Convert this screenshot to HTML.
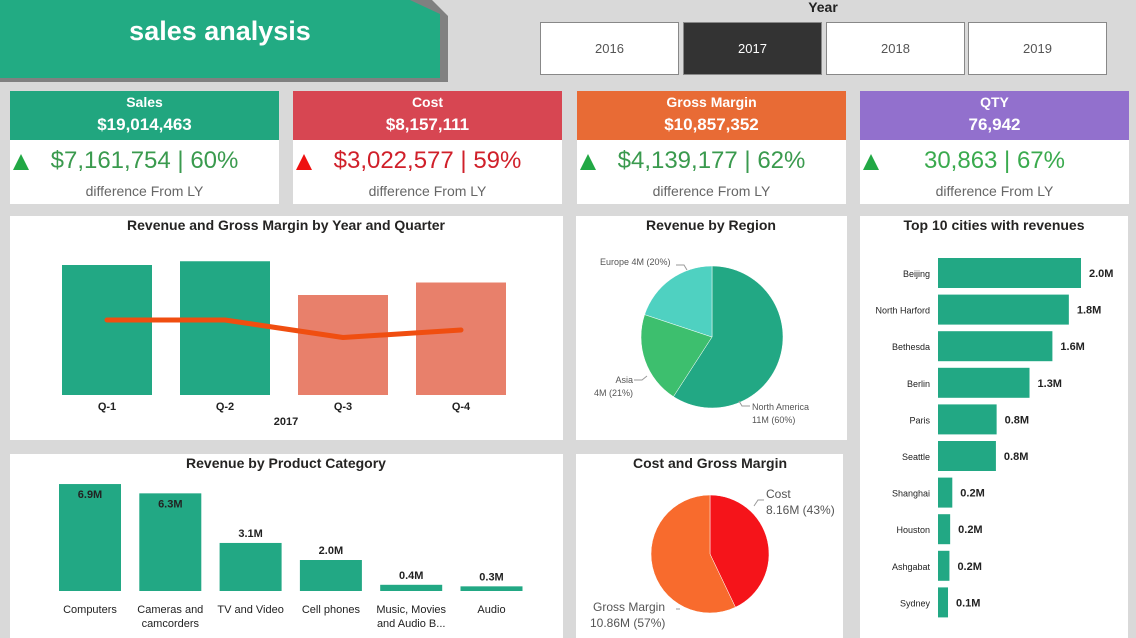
<!DOCTYPE html>
<html><head><meta charset="utf-8">
<style>
body{margin:0;width:1136px;height:638px;background:#d9d9d9;font-family:"Liberation Sans",sans-serif;position:relative;overflow:hidden}
.abs{position:absolute}
.card{position:absolute;top:91px;width:269px;height:113px;background:#fff}
.card .hd{height:49px;color:#fff;text-align:center}
.card .t{font-size:14px;font-weight:bold;padding-top:2px;height:20px;line-height:18px}
.card .v{font-size:17px;font-weight:bold;line-height:24px}
.card .d{position:absolute;top:55px;left:0;width:100%;text-align:center;font-size:24px;line-height:30px}
.card .tri{position:absolute;left:3px;top:63px;width:0;height:0;border-left:8px solid transparent;border-right:8px solid transparent;border-bottom:16px solid #22a845}
.card .f{position:absolute;top:92px;width:100%;text-align:center;font-size:14px;color:#666}
.yr{position:absolute;top:22px;width:139px;height:53px;border:1px solid #888;background:#fff;box-sizing:border-box;text-align:center;line-height:52px;font-size:13px;color:#555}
.panel{position:absolute;background:#fff}
</style></head><body>
<svg class="abs" style="left:0;top:0" width="460" height="90">
<polygon points="0,0 432,0 448,16 448,82 0,82" fill="#808080"/>
<polygon points="0,0 410,0 440,14 440,78 0,78" fill="#22ab83"/>
</svg>
<div class="abs" style="left:0;top:16px;width:440px;text-align:center;color:#fff;font-size:27px;font-weight:bold">sales analysis</div>

<div class="abs" style="left:793px;top:-1px;width:60px;text-align:center;font-size:14px;font-weight:bold;color:#222">Year</div>
<div class="yr" style="left:540px">2016</div>
<div class="yr" style="left:683px;background:#333;color:#fff">2017</div>
<div class="yr" style="left:826px">2018</div>
<div class="yr" style="left:968px">2019</div>

<div class="card" style="left:10px"><div class="hd" style="background:#21a67f"><div class="t">Sales</div><div class="v">$19,014,463</div></div><div class="tri"></div><div class="d" style="color:#3a9a4e">$7,161,754 | 60%</div><div class="f">difference From LY</div></div>
<div class="card" style="left:293px"><div class="hd" style="background:#d74652"><div class="t">Cost</div><div class="v">$8,157,111</div></div><div class="tri" style="border-bottom-color:#ee1111"></div><div class="d" style="color:#d0202a">$3,022,577 | 59%</div><div class="f">difference From LY</div></div>
<div class="card" style="left:577px"><div class="hd" style="background:#e86b35"><div class="t">Gross Margin</div><div class="v">$10,857,352</div></div><div class="tri"></div><div class="d" style="color:#3a9a4e">$4,139,177 | 62%</div><div class="f">difference From LY</div></div>
<div class="card" style="left:860px"><div class="hd" style="background:#9270cd"><div class="t">QTY</div><div class="v">76,942</div></div><div class="tri"></div><div class="d" style="color:#3aaa4e">30,863 | 67%</div><div class="f">difference From LY</div></div>

<div class="panel" style="left:10px;top:216px;width:553px;height:224px"></div>
<div class="panel" style="left:576px;top:216px;width:271px;height:224px"></div>
<div class="panel" style="left:860px;top:216px;width:268px;height:422px"></div>
<div class="panel" style="left:10px;top:454px;width:553px;height:184px"></div>
<div class="panel" style="left:576px;top:454px;width:267px;height:184px"></div>

<svg id="ch" class="abs" style="left:0;top:0" width="1136" height="638" font-family="Liberation Sans, sans-serif"></svg>
<script>
const quarters=["Q-1","Q-2","Q-3","Q-4"];
const quarterRevenue=[5.2,5.35,4.0,4.5];
const quarterMargin=[3.0,3.0,2.3,2.6];
const regions=["North America","Asia","Europe"];
const regionValues=[11,3.9,3.7];
const regionLabels=["11M (60%)","4M (21%)","Europe 4M (20%)"];
const cmNames=["Cost","Gross Margin"];
const cmValues=[8.16,10.86];
const cities=["Beijing","North Harford","Bethesda","Berlin","Paris","Seattle","Shanghai","Houston","Ashgabat","Sydney"];
const cityValues=[2.0,1.83,1.6,1.28,0.82,0.81,0.2,0.17,0.16,0.14];
const cityLabels=["2.0M","1.8M","1.6M","1.3M","0.8M","0.8M","0.2M","0.2M","0.2M","0.1M"];
const categories=[["Computers"],["Cameras and","camcorders"],["TV and Video"],["Cell phones"],["Music, Movies","and Audio B..."],["Audio"]];
const categoryValues=[6.9,6.3,3.1,2.0,0.4,0.3];
const categoryLabels=["6.9M","6.3M","3.1M","2.0M","0.4M","0.3M"];

const S=document.getElementById('ch');const NS='http://www.w3.org/2000/svg';
function mk(t,a,txt){const e=document.createElementNS(NS,t);for(const k in a)e.setAttribute(k,a[k]);if(txt!==undefined)e.textContent=txt;S.appendChild(e);return e;}
function title(x,y,s,n){const e=mk('text',{x:x,y:y,'text-anchor':'middle','font-size':14,'font-weight':'bold',fill:'#252423'},s);

}
title(286,230,'Revenue and Gross Margin by Year and Quarter','quarter-chart-title');
title(711,230,'Revenue by Region','region-chart-title');
title(994,230,'Top 10 cities with revenues','cities-chart-title');
title(286,468,'Revenue by Product Category','category-chart-title');
title(710,468,'Cost and Gross Margin','cost-margin-chart-title');

// quarter chart
const qBase=395,qScale=25,qx=i=>107+i*118;const qy=v=>qBase-v*qScale;
quarters.forEach((q,i)=>{const r=mk('rect',{x:qx(i)-45,y:qy(quarterRevenue[i]),width:90,height:quarterRevenue[i]*qScale,fill:i<2?'#22a884':'#e8806b'});


const t=mk('text',{x:qx(i),y:410,'text-anchor':'middle','font-size':11,'font-weight':'bold',fill:'#222'},q);

});
const yl=mk('text',{x:286,y:425,'text-anchor':'middle','font-size':11,'font-weight':'bold',fill:'#222'},'2017');


const ln=mk('polyline',{points:quarterMargin.map((v,i)=>qx(i)+','+qy(v)).join(' '),fill:'none',stroke:'#f04e10','stroke-width':5,'stroke-linejoin':'round','stroke-linecap':'round'});



function pie(cx,cy,r,vals,cols,prefix){const tot=vals.reduce((a,b)=>a+b,0);let a0=-Math.PI/2;const mids=[];
vals.forEach((v,i)=>{const a1=a0+v/tot*2*Math.PI;const p=mk('path',{d:`M${cx},${cy} L${cx+r*Math.cos(a0)},${cy+r*Math.sin(a0)} A${r},${r} 0 ${a1-a0>Math.PI?1:0} 1 ${cx+r*Math.cos(a1)},${cy+r*Math.sin(a1)} Z`,fill:cols[i],stroke:'#fff','stroke-width':0.5});


mids.push((a0+a1)/2);a0=a1;});return mids;}
pie(712,337,71,regionValues,['#22a884','#3dbf6e','#4fd1c1'],'region');
function lbl(x,y,s,sz,anc,fill,n){const t=mk('text',{x:x,y:y,'font-size':sz,'text-anchor':anc||'start',fill:fill||'#555'},s);

}
lbl(752,410,'North America',9,'start','#555','region-label-na');lbl(752,423,regionLabels[0],9,'start','#555','region-value-na');
lbl(633,383,'Asia',9,'end','#555','region-label-asia');lbl(633,396,regionLabels[1],9,'end','#555','region-value-asia');
lbl(600,265,regionLabels[2],9,'start','#555','region-label-europe');
mk('path',{d:'M676,265 h8 l3,5 M634,380 h8 l5,-4 M750,406 h-8 l-3,-5',fill:'none',stroke:'#999'});

pie(710,554,59,cmValues,['#f5141a','#f86b2d'],'cost-margin');
lbl(766,498,'Cost',12,'start','#555','cost-label');lbl(766,514,'8.16M (43%)',12,'start','#555','cost-value');
lbl(593,611,'Gross Margin',12,'start','#555','gm-label');lbl(590,627,'10.86M (57%)',12,'start','#555','gm-value');
mk('path',{d:'M764,500 h-6 l-4,6 M680,609 h-4',fill:'none',stroke:'#999'});

// cities
const cx0=938,cScale=71.5,cy=i=>273+i*36.6;
cities.forEach((c,i)=>{const r=mk('rect',{x:cx0,y:cy(i)-15,width:cityValues[i]*cScale,height:30,fill:'#22a884'});


lbl(930,cy(i)+4,c,9,'end','#222','city-label-'+i);
const t=mk('text',{x:cx0+cityValues[i]*cScale+8,y:cy(i)+4,'font-size':11,'font-weight':'bold',fill:'#222'},cityLabels[i]);

});

// categories
const kBase=591,kScale=15.5,kx=i=>90+i*80.3;
categories.forEach((c,i)=>{const h=categoryValues[i]*kScale;const r=mk('rect',{x:kx(i)-31,y:kBase-h,width:62,height:h,fill:'#22a884'});


const inside=h>60;const t=mk('text',{x:kx(i),y:inside?kBase-h+14:kBase-h-6,'text-anchor':'middle','font-size':11,'font-weight':'bold',fill:'#222'},categoryLabels[i]);


c.forEach((s,j)=>lbl(kx(i),613+j*14,s,11,'middle','#222','category-label-'+i+'-'+j));});
</script>
</body></html>
